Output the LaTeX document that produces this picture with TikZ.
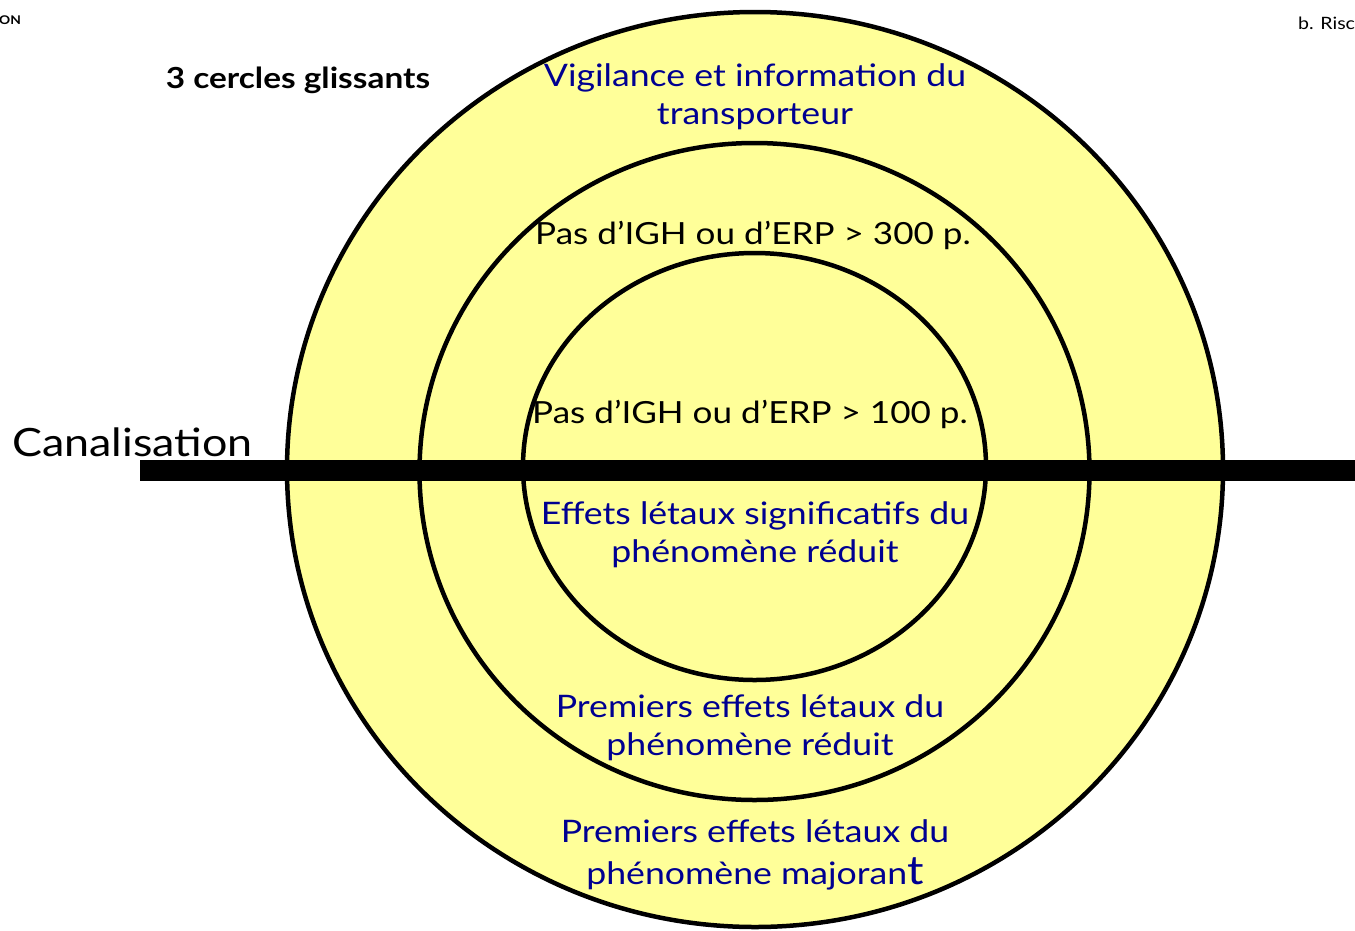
\documentclass[tikz,border=0pt]{standalone}
\usepackage{fontspec}
\setmainfont{Lato}[FakeStretch=1.15]
\usepackage{xcolor}
\usepackage{tikz}
\usetikzlibrary{positioning}

\definecolor{marine}{HTML}{000091}
\definecolor{zonejaune}{HTML}{FFFF99}

\begin{document}
\begin{tikzpicture}[
    x=1pt, y=-1pt,
    zone/.style={draw=black,line width=4.5pt,fill=zonejaune},
    pipe/.style={draw=black,line width=21pt},
    blue label/.style={text=marine,align=center,inner sep=0pt,font=\fontsize{31}{38}\selectfont},
    black label/.style={text=black,align=center,inner sep=0pt,font=\fontsize{30.5}{38}\selectfont}
]
\useasboundingbox (0,0) rectangle (1355,930);
\clip (0,0) rectangle (1355,930);

% cercles
\draw[zone] (755,469.5) ellipse [x radius=468, y radius=457.5];
\draw[zone] (754.5,471.5) ellipse [x radius=335, y radius=328.5];
\draw[zone] (754.5,466.5) ellipse [x radius=231.5, y radius=213.5];

% canalisation
\coordinate (pipe west) at (140,470.5);
\coordinate (pipe east) at (1360,470.5);
\draw[pipe] (pipe west) -- (pipe east);

\node[anchor=west,inner sep=0pt,font=\fontsize{39}{39}\selectfont] (canal) at (12,442) {Canalisation};
\node[inner sep=0pt,font=\bfseries\fontsize{29}{29}\selectfont] (titre) at (298,80) {3 cercles glissants};

\node[blue label] (vigilance) at (755,97) {Vigilance et information du\\transporteur};
\node[black label] (erp300) at (753,235) {Pas d’IGH ou d’ERP > 300 p.};
\node[black label] (erp100) at (750,414) {Pas d’IGH ou d’ERP > 100 p.};
\node[blue label] (significatifs) at (755,535) {Effets létaux significatifs du\\phénomène réduit};
\node[blue label] (premiers reduit) at (750,728) {Premiers effets létaux du\\phénomène réduit};
\node[blue label] (premiers majorant) at (755,855) {Premiers effets létaux du\\[4pt]phénomène majoran{\fontsize{40}{40}\selectfont t}};

% bords de la diapositive
\node[anchor=west,inner sep=0pt,font=\bfseries\fontsize{12}{12}\selectfont] (logo) at (-1,20) {ON};
\node[anchor=west,inner sep=0pt,font=\fontsize{17}{17}\selectfont] (rubrique) at (1298,23) {b. Risc};
\end{tikzpicture}
\end{document}
